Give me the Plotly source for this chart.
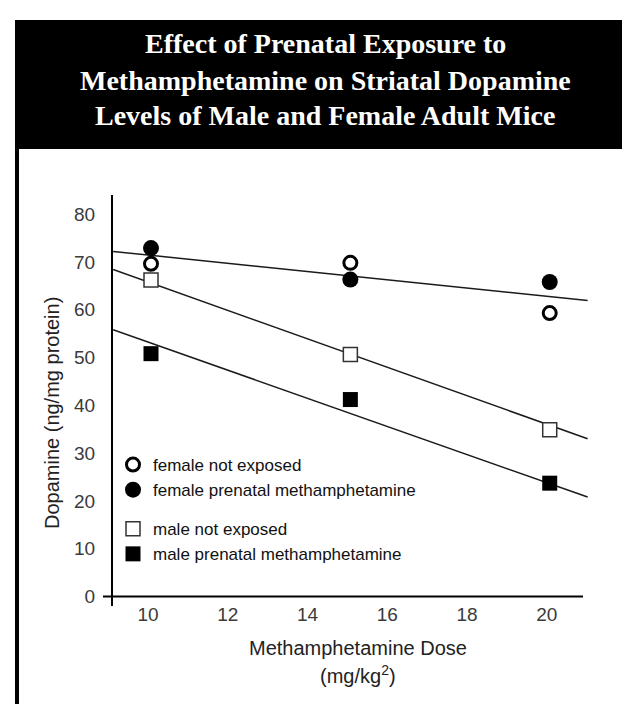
import plotly.graph_objects as go

# ---- data ----
dose = [10, 15, 20]
female_not_exposed = [69.6, 69.8, 59.3]
female_prenatal = [72.9, 66.3, 65.8]
male_not_exposed = [66.2, 50.6, 34.9]
male_prenatal = [50.8, 41.2, 23.7]

fit_dose = [9.05, 20.95]
female_fit = [72.2, 61.9]
male_not_exposed_fit = [68.4, 33.0]
male_prenatal_fit = [55.8, 20.8]

x_ticks = [10, 12, 14, 16, 18, 20]
y_ticks = [0, 10, 20, 30, 40, 50, 60, 70, 80]

title_lines = ["Effect of Prenatal Exposure to",
               "Methamphetamine on Striatal Dopamine",
               "Levels of Male and Female Adult Mice"]

# ---- layout geometry (pixels) ----
W, H = 630, 704
ML, MR, MT, MB = 105, 50, 187, 106
PW = W - ML - MR
PH = H - MT - MB


def px(p):
    return (p - ML) / PW


def py(p):
    return (H - MB - p) / PH


SANS = "Liberation Sans, Arial, sans-serif"
SERIF = "Liberation Serif, Times New Roman, serif"

fig = go.Figure()

# regression lines
for ys in (female_fit, male_not_exposed_fit, male_prenatal_fit):
    fig.add_trace(go.Scatter(x=fit_dose, y=ys, mode="lines",
                             line=dict(color="#1a1a1a", width=1.5),
                             showlegend=False, hoverinfo="skip"))

fig.add_trace(go.Scatter(
    x=dose, y=female_not_exposed, mode="markers", name="female not exposed",
    legendgroup="female",
    marker=dict(symbol="circle", size=13, color="white",
                line=dict(color="black", width=3))))
fig.add_trace(go.Scatter(
    x=dose, y=female_prenatal, mode="markers",
    name="female prenatal methamphetamine", legendgroup="female",
    marker=dict(symbol="circle", size=16, color="black",
                line=dict(color="black", width=0))))
fig.add_trace(go.Scatter(
    x=dose, y=male_not_exposed, mode="markers", name="male not exposed",
    legendgroup="male",
    marker=dict(symbol="square", size=14, color="white",
                line=dict(color="#333333", width=1.5))))
fig.add_trace(go.Scatter(
    x=dose, y=male_prenatal, mode="markers",
    name="male prenatal methamphetamine", legendgroup="male",
    marker=dict(symbol="square", size=15, color="black",
                line=dict(color="black", width=0))))

shapes = [
    # black title box
    dict(type="rect", xref="paper", yref="paper",
         x0=px(7), x1=px(640), y0=py(141), y1=py(12),
         fillcolor="black", line=dict(width=0), layer="below"),
    # left frame border
    dict(type="rect", xref="paper", yref="paper",
         x0=px(7), x1=px(11), y0=py(720), y1=py(141),
         fillcolor="black", line=dict(width=0), layer="below"),
    # x axis line at y = 0
    dict(type="line", xref="paper", yref="y",
         x0=px(95), x1=px(575), y0=0, y1=0,
         line=dict(color="black", width=2)),
]

annotations = []
for txt, yc in zip(title_lines, [36, 72, 107]):
    annotations.append(dict(
        text="<b>" + txt + "</b>", xref="paper", yref="paper",
        x=px(317), y=py(yc), xanchor="center", yanchor="middle",
        showarrow=False, font=dict(family=SERIF, size=28, color="white")))

annotations.append(dict(
    text="Dopamine (ng/mg protein)", xref="paper", yref="paper",
    x=px(44), y=py(405), xanchor="center", yanchor="middle",
    textangle=-90, showarrow=False,
    font=dict(family=SANS, size=20, color="#222222")))
annotations.append(dict(
    text="Methamphetamine Dose", xref="paper", yref="paper",
    x=px(350), y=py(640), xanchor="center", yanchor="middle",
    showarrow=False, font=dict(family=SANS, size=20, color="#222222")))
annotations.append(dict(
    text="(mg/kg<sup>2</sup>)", xref="paper", yref="paper",
    x=px(350), y=py(666), xanchor="center", yanchor="middle",
    showarrow=False, font=dict(family=SANS, size=20, color="#222222")))

fig.update_layout(
    width=W, height=H,
    margin=dict(l=ML, r=MR, t=MT, b=MB, pad=0),
    paper_bgcolor="white", plot_bgcolor="white",
    shapes=shapes, annotations=annotations,
    showlegend=True,
    legend=dict(x=px(105), y=py(439), xanchor="left", yanchor="top",
                traceorder="grouped", tracegroupgap=14,
                bgcolor="rgba(0,0,0,0)", borderwidth=0,
                itemsizing="trace",
                font=dict(family=SANS, size=17, color="#111111")),
    xaxis=dict(range=[9.047, 20.96], tickvals=x_ticks,
               ticktext=[str(v) for v in x_ticks],
               showgrid=False, zeroline=False, showline=False,
               ticks="", ticklabelstandoff=-5, ticklabelshift=-3,
               tickfont=dict(family=SANS, size=19, color="#3a3a3a")),
    yaxis=dict(range=[-2, 84], tickvals=y_ticks,
               ticktext=[str(v) for v in y_ticks],
               showgrid=False, zeroline=False, showline=True,
               linecolor="black", linewidth=2,
               ticks="", ticklabelstandoff=12,
               tickfont=dict(family=SANS, size=19, color="#3a3a3a")),
)

fig.write_html("out.html")
